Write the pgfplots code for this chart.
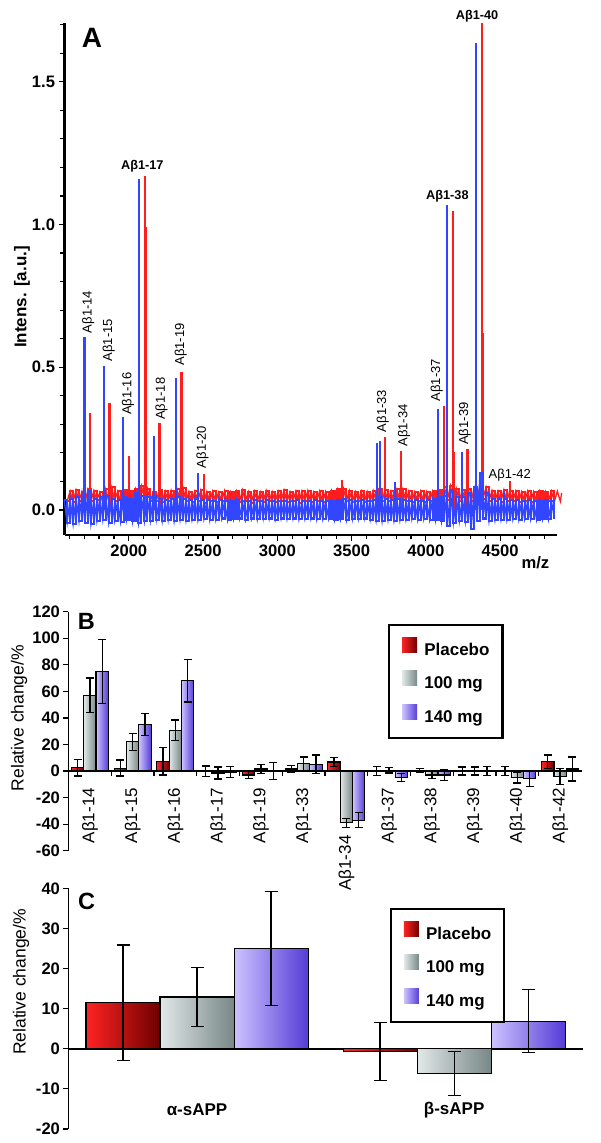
\documentclass[border=0pt]{standalone}
\usepackage{fontspec}
\setmainfont{Liberation Sans}
\usepackage{pgfplots}
\pgfplotsset{compat=1.18}
\usepackage{pgfplotstable}

\definecolor{specred}{RGB}{255,30,30}
\definecolor{specblue}{RGB}{50,70,255}
\definecolor{plL}{RGB}{255,35,35}
\definecolor{plR}{RGB}{110,0,0}
\definecolor{grL}{RGB}{225,232,232}
\definecolor{grR}{RGB}{120,135,135}
\definecolor{puL}{RGB}{205,195,255}
\definecolor{puR}{RGB}{85,60,215}

\pgfplotstableread{
x b r
1565 0.035 nan
1585 -0.045 0.030
1605 0.040 0.066
1625 -0.050 0.028
1645 0.045 0.070
1665 -0.040 0.032
1685 0.055 0.064
1705 -0.045 0.025
1725 0.065 0.072
1745 -0.050 0.030
1765 0.040 0.068
1785 -0.040 0.034
1805 0.045 0.062
1825 -0.035 0.026
1845 0.050 0.074
1865 -0.045 0.030
1885 0.040 0.080
1905 -0.038 0.032
1925 0.035 0.065
1945 -0.042 0.028
1965 0.045 0.070
1985 -0.035 0.035
2005 0.040 0.066
2025 -0.040 0.030
2045 0.060 0.072
2065 -0.045 0.028
2085 0.050 0.085
2105 -0.040 0.040
2125 0.045 0.075
2145 -0.038 0.030
2165 0.050 0.064
2185 -0.035 0.032
2205 0.040 0.070
2225 -0.040 0.028
2245 0.035 0.066
2265 -0.036 0.030
2285 0.040 0.068
2305 -0.040 0.026
2325 0.045 0.072
2345 -0.035 0.034
2365 0.040 0.078
2385 -0.038 0.030
2405 0.035 0.064
2425 -0.034 0.028
2445 0.040 0.066
2465 -0.036 0.032
2485 0.035 0.070
2505 -0.032 0.026
2525 0.034 0.064
2545 -0.036 0.030
2565 0.030 0.066
2585 -0.034 0.028
2605 0.036 0.062
2625 -0.030 0.032
2645 0.032 0.068
2665 -0.035 0.027
2685 0.030 0.063
2705 -0.032 0.030
2725 0.035 0.066
2745 -0.030 0.028
2765 0.032 0.070
2785 -0.034 0.032
2805 0.030 0.064
2825 -0.030 0.026
2845 0.034 0.066
2865 -0.033 0.030
2885 0.030 0.063
2905 -0.031 0.028
2925 0.035 0.068
2945 -0.030 0.031
2965 0.032 0.064
2985 -0.034 0.027
3005 0.030 0.066
3025 -0.030 0.030
3045 0.033 0.069
3065 -0.032 0.028
3085 0.030 0.064
3105 -0.030 0.032
3125 0.034 0.066
3145 -0.033 0.026
3165 0.030 0.065
3185 -0.031 0.030
3205 0.032 0.068
3225 -0.030 0.028
3245 0.034 0.063
3265 -0.033 0.031
3285 0.030 0.066
3305 -0.032 0.027
3325 0.033 0.064
3345 -0.030 0.030
3365 0.032 0.068
3385 -0.034 0.028
3405 0.035 0.072
3425 -0.032 0.030
3445 0.040 0.075
3465 -0.035 0.032
3485 0.034 0.068
3505 -0.033 0.028
3525 0.032 0.064
3545 -0.032 0.030
3565 0.034 0.066
3585 -0.030 0.027
3605 0.033 0.064
3625 -0.034 0.030
3645 0.035 0.068
3665 -0.038 0.030
3685 0.045 0.072
3705 -0.040 0.030
3725 0.040 0.070
3745 -0.036 0.030
3765 0.035 0.066
3785 -0.038 0.028
3805 0.040 0.072
3825 -0.036 0.032
3845 0.035 0.074
3865 -0.034 0.030
3885 0.033 0.066
3905 -0.032 0.028
3925 0.034 0.064
3945 -0.035 0.030
3965 0.033 0.066
3985 -0.032 0.027
4005 0.035 0.064
4025 -0.034 0.030
4045 0.038 0.066
4065 -0.036 0.030
4085 0.045 0.070
4105 -0.040 0.032
4125 0.050 0.080
4145 -0.055 0.035
4165 0.070 0.085
4185 -0.045 0.036
4205 0.045 0.075
4225 -0.040 0.030
4245 0.045 0.070
4265 -0.042 0.032
4285 0.060 0.074
4305 -0.068 0.030
4325 0.080 0.078
4345 -0.040 0.036
4365 0.130 0.090
4385 -0.030 0.040
4405 0.060 0.080
4425 -0.040 0.032
4445 0.040 0.068
4465 -0.036 0.030
4485 0.038 0.066
4505 -0.034 0.028
4525 0.040 0.070
4545 -0.035 0.030
4565 0.036 0.068
4585 -0.033 0.030
4605 0.034 0.066
4625 -0.034 0.028
4645 0.033 0.064
4665 -0.032 0.030
4685 0.034 0.066
4705 -0.033 0.027
4725 0.032 0.064
4745 -0.034 0.030
4765 0.033 0.066
4785 -0.032 0.028
4805 0.034 0.064
4825 -0.033 0.030
4845 0.032 0.066
4865 -0.030 0.029
}\noise

\pgfplotstableread{
x y
1702 0.607
1832 0.506
1961 0.327
2070 1.160
2168 0.260
2319 0.461
2464 0.128
3671 0.234
3689 0.243
3793 0.097
4080 0.354
4142 1.070
4241 0.203
4339 1.635
4526 0.068
}\bluepeaks

\pgfplotstableread{
x y
1741 0.339
1870 0.374
2000 0.189
2109 1.170
2114 0.990
2207 0.306
2355 0.485
2360 0.362
2505 0.125
3433 0.105
3725 0.257
3834 0.207
4124 0.364
4181 1.047
4186 0.204
4280 0.214
4378 1.705
4383 0.619
4565 0.100
}\redpeaks

\pgfplotstableread{
i p pe g ge v ve
0 2.5 6.3 57 13 75 24
1 2.2 6 22 6.5 35 8.5
2 7.3 10.3 30.7 7.8 68 16
3 -0.3 4 -1.5 4.5 -0.7 4.3
4 -3 2.5 1.5 3.5 0 6.2
5 1.5 2.5 5.5 5 5 7
6 6.8 3.3 -39 3.5 -37 5.7
7 0 3.5 0.5 2 -5 3
8 0.5 1.5 -3 2.5 -3 4
9 0 3 0 3 0 3.5
10 0 3.5 -5 4 -5.5 6
11 7 5 -4 6 1.5 9
}\tabB

\pgfplotstableread{
i p pe g ge v ve
0 11.5 14.4 12.9 7.3 25 14.2
1 -0.7 7.2 -6.2 5.5 6.9 7.8
}\tabC

\newcommand{\tickfont}{\fontsize{16.6}{18}\selectfont\bfseries}
\newcommand{\pklab}{\fontsize{13}{15}\selectfont}
\newcommand{\pkbold}{\fontsize{12.7}{15}\selectfont\bfseries}

\pgfplotsset{
  barbase/.style={ybar, bar width=0.2885, bar shift=0pt, draw=black, line width=1.1pt,
    forget plot,
    error bars/y dir=both, error bars/y explicit,
    error bars/error bar style={line width=1.3pt, black},
    error bars/error mark options={rotate=90, mark size=4pt, line width=1.3pt, black}},
  panelbar/.style={
    axis y line*=left, axis x line*=middle,
    axis line style={line width=1.8pt},
    tick align=outside,
    major tick length=0pt, minor tick length=5pt,
    tick style={line width=1.2pt, black},
    yticklabel style={font=\tickfont},
    yticklabel shift=5pt,
    /pgf/number format/assume math mode=true,
    clip=false,
    legend image code/.code={\path[##1, draw=none] (0pt,-1.5pt) rectangle (15pt,13.5pt); \path (21pt,0pt);},
    legend style={draw=black, line width=2.2pt, inner xsep=13pt, inner ysep=12pt,
      row sep=12pt, font=\fontsize{17}{20}\selectfont\bfseries,
      nodes={inner sep=0pt, text height=12.5pt, text depth=3.5pt}},
    legend cell align=left,
  }
}

\begin{document}
\begin{tikzpicture}
\useasboundingbox (0,0) rectangle (600pt,1143pt);

% ---------------- Panel A ----------------
\begin{axis}[at={(64.6pt,608pt)}, anchor=south west, scale only axis,
  width=492pt, height=512.3pt,
  xmin=1568, xmax=4880, ymin=-0.0876, ymax=1.707,
  axis x line*=bottom, axis y line*=left,
  axis line style={line width=2.3pt},
  xtick={2000,2500,3000,3500,4000,4500},
  minor xtick={1600,1700,1800,1900,2100,2200,2300,2400,2600,2700,2800,2900,3100,3200,3300,3400,3600,3700,3800,3900,4100,4200,4300,4400,4600,4700,4800},
  ytick={0,0.5,1,1.5},
  minor ytick={0.1,0.2,0.3,0.4,0.6,0.7,0.8,0.9,1.1,1.2,1.3,1.4,1.6,1.7},
  tick align=outside, major tick length=6pt, minor tick length=4.5pt,
  tick style={line width=1.2pt, black},
  ticklabel style={font=\tickfont},
  /pgf/number format/assume math mode=true,
  yticklabel style={/pgf/number format/.cd, fixed, fixed zerofill, precision=1},
  xticklabel style={/pgf/number format/.cd, 1000 sep={}},
  clip=false,
]
\addplot[specred, line width=2.1pt, mark=none, const plot] table[x=x, y=r] {\noise};
\addplot[specred, line width=1.3pt, mark=none] table[x=x, y=r] {\noise};
\addplot[specred, line width=1.3pt, mark=none] coordinates {(4865,0.029) (4885,0.066) (4905,0.030) (4914,0.060)};
\addplot[specred, ycomb, line width=2.2pt, mark=none] table[x=x, y=y] {\redpeaks};
\addplot[specblue, line width=2.1pt, mark=none, const plot] table[x=x, y=b] {\noise};
\addplot[specblue, line width=1.3pt, mark=none] table[x=x, y=b] {\noise};
\addplot[specblue, ycomb, line width=2.2pt, mark=none] table[x=x, y=y] {\bluepeaks};

\node[rotate=90, anchor=west, inner sep=0pt, font=\pklab] at (axis cs:1728,0.619) {Aβ1-14};
\node[rotate=90, anchor=west, inner sep=0pt, font=\pklab] at (axis cs:1865,0.520) {Aβ1-15};
\node[rotate=90, anchor=west, inner sep=0pt, font=\pklab] at (axis cs:1995,0.333) {Aβ1-16};
\node[rotate=90, anchor=west, inner sep=0pt, font=\pklab] at (axis cs:2220,0.315) {Aβ1-18};
\node[rotate=90, anchor=west, inner sep=0pt, font=\pklab] at (axis cs:2350,0.505) {Aβ1-19};
\node[rotate=90, anchor=west, inner sep=0pt, font=\pklab] at (axis cs:2497,0.146) {Aβ1-20};
\node[rotate=90, anchor=west, inner sep=0pt, font=\pklab] at (axis cs:3710,0.272) {Aβ1-33};
\node[rotate=90, anchor=west, inner sep=0pt, font=\pklab] at (axis cs:3852,0.222) {Aβ1-34};
\node[rotate=90, anchor=west, inner sep=0pt, font=\pklab] at (axis cs:4073,0.380) {Aβ1-37};
\node[rotate=90, anchor=west, inner sep=0pt, font=\pklab] at (axis cs:4262,0.228) {Aβ1-39};
\node[inner sep=0pt, font=\pklab] at (axis cs:4565,0.123) {Aβ1-42};
\node[inner sep=0pt, font=\pkbold] at (axis cs:2091,1.205) {Aβ1-17};
\node[inner sep=0pt, font=\pkbold] at (axis cs:4145,1.100) {Aβ1-38};
\node[inner sep=0pt, font=\pkbold] at (axis cs:4345,1.730) {Aβ1-40};

\node[font=\fontsize{28}{30}\selectfont\bfseries] at (rel axis cs:0.0557,0.970) {A};
\node[font=\fontsize{16.6}{18}\selectfont\bfseries] at (rel axis cs:0.957,-0.0547) {m/z};
\node[rotate=90, font=\fontsize{17}{19}\selectfont\bfseries] at (rel axis cs:-0.0866,0.4646) {Intens. [a.u.]};
\end{axis}

% ---------------- Panel B ----------------
\begin{axis}[at={(68.5pt,292.3pt)}, anchor=south west, scale only axis,
  width=513pt, height=239pt,
  xmin=-0.5, xmax=11.5, ymin=-60, ymax=120,
  panelbar,
  ytick={-60,-40,-20,0,20,40,60,80,100,120},
  minor ytick={-60,-40,-20,0,20,40,60,80,100,120},
  xtick={0,1,2,3,4,5,6,7,8,9,10,11},
  xticklabels={Aβ1-14,Aβ1-15,Aβ1-16,Aβ1-17,Aβ1-19,Aβ1-33,{},Aβ1-37,Aβ1-38,Aβ1-39,Aβ1-40,Aβ1-42},
  xticklabel style={rotate=90, anchor=east, font=\fontsize{17}{19}\selectfont},
  xticklabel shift=13.5pt,
  minor xtick={0.5,1.5,2.5,3.5,4.5,5.5,6.5,7.5,8.5,9.5,10.5},
  legend style={at={(rel axis cs:0.623,0.9485)}, anchor=north west},
]
\pgfplotsinvokeforeach{0,...,11}{
\addplot[barbase, left color=plL, right color=plR, restrict expr to domain={\coordindex}{#1:#1}] table[x expr=\thisrow{i}-0.2885, y=p, y error=pe] {\tabB};
\addplot[barbase, left color=grL, right color=grR, restrict expr to domain={\coordindex}{#1:#1}] table[x=i, y=g, y error=ge] {\tabB};
\addplot[barbase, left color=puL, right color=puR, restrict expr to domain={\coordindex}{#1:#1}] table[x expr=\thisrow{i}+0.2885, y=v, y error=ve] {\tabB};
}
\addlegendimage{left color=plL, right color=plR}\addlegendentry{Placebo}
\addlegendimage{left color=grL, right color=grR}\addlegendentry{100 mg}
\addlegendimage{left color=puL, right color=puR}\addlegendentry{140 mg}
\node[rotate=90, anchor=east, inner sep=0pt, font=\fontsize{17}{19}\selectfont] at (axis cs:6,-48.4) {Aβ1-34};
\node[font=\fontsize{23.5}{25}\selectfont\bfseries] at (rel axis cs:0.035,0.961) {B};
\node[rotate=90, font=\fontsize{17.5}{19}\selectfont] at (rel axis cs:-0.0965,0.555) {Relative change/\%};
\end{axis}

% ---------------- Panel C ----------------
\begin{axis}[at={(68.5pt,14pt)}, anchor=south west, scale only axis,
  width=514.2pt, height=240.7pt,
  xmin=-0.5, xmax=1.5, ymin=-20, ymax=40,
  panelbar,
  ytick={-20,-10,0,10,20,30,40},
  minor ytick={-20,-10,0,10,20,30,40},
  xtick=\empty,
  minor xtick={0.5},
  legend style={at={(rel axis cs:0.625,0.918)}, anchor=north west},
]
\pgfplotsinvokeforeach{0,1}{
\addplot[barbase, bar width=0.288, left color=plL, right color=plR, error bars/error mark options={rotate=90, mark size=6.5pt, line width=1.3pt, black}, restrict expr to domain={\coordindex}{#1:#1}] table[x expr=\thisrow{i}-0.288, y=p, y error=pe] {\tabC};
\addplot[barbase, bar width=0.288, left color=grL, right color=grR, error bars/error mark options={rotate=90, mark size=6.5pt, line width=1.3pt, black}, restrict expr to domain={\coordindex}{#1:#1}] table[x=i, y=g, y error=ge] {\tabC};
\addplot[barbase, bar width=0.288, left color=puL, right color=puR, error bars/error mark options={rotate=90, mark size=6.5pt, line width=1.3pt, black}, restrict expr to domain={\coordindex}{#1:#1}] table[x expr=\thisrow{i}+0.288, y=v, y error=ve] {\tabC};
}
\addlegendimage{left color=plL, right color=plR}\addlegendentry{Placebo}
\addlegendimage{left color=grL, right color=grR}\addlegendentry{100 mg}
\addlegendimage{left color=puL, right color=puR}\addlegendentry{140 mg}
\node[font=\fontsize{17}{19}\selectfont\bfseries] at (axis cs:0,-15.3) {α-sAPP};
\node[font=\fontsize{17}{19}\selectfont\bfseries] at (axis cs:1,-15.3) {β-sAPP};
\node[font=\fontsize{23.5}{25}\selectfont\bfseries] at (rel axis cs:0.035,0.945) {C};
\node[rotate=90, font=\fontsize{17.5}{19}\selectfont] at (rel axis cs:-0.0924,0.611) {Relative change/\%};
\end{axis}
\end{tikzpicture}
\end{document}
